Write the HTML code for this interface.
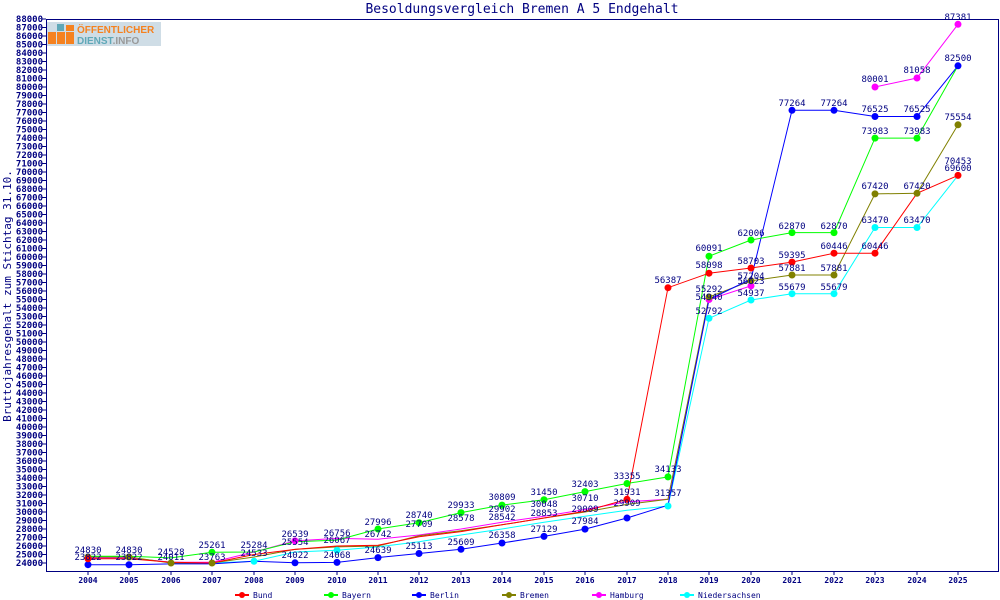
<!DOCTYPE html>
<html><head><meta charset="utf-8"><style>
body{margin:0;background:#fff}
svg{display:block;font-family:"DejaVu Sans Mono","Liberation Mono",monospace}
.yt{font-size:9px;font-weight:bold;fill:#000080;text-anchor:end}
.xt{font-size:8px;font-weight:bold;fill:#000080;text-anchor:middle}
.v{font-size:9px;fill:#000080;text-anchor:middle}
.lg{font-size:8px;fill:#000080}
</style></head><body>
<svg width="1000" height="600" viewBox="0 0 1000 600">
<text x="522" y="13" font-size="13" fill="#000080" text-anchor="middle">Besoldungsvergleich Bremen A 5 Endgehalt</text>
<text transform="translate(11,296) rotate(-90)" font-size="11" fill="#000080" text-anchor="middle">Bruttojahresgehalt zum Stichtag 31.10.</text>
<g>
<rect x="47" y="22" width="114" height="24" fill="#cfdde6"/>
<rect x="48" y="32" width="8" height="12" fill="#f58220"/><rect x="57" y="32" width="8" height="12" fill="#f58220"/><rect x="66" y="32" width="8" height="12" fill="#f58220"/><rect x="66" y="25" width="8" height="6" fill="#f58220"/><rect x="57" y="24" width="7" height="7" fill="#5fa8b8"/>
<text x="77" y="33" font-size="10" font-weight="bold" fill="#f58220" font-family="Liberation Sans,sans-serif">ÖFFENTLICHER</text>
<text x="77" y="44" font-size="10" font-weight="bold" fill="#5fa8b8" font-family="Liberation Sans,sans-serif">DIENST<tspan fill="#999">.INFO</tspan></text>
</g>
<rect x="46.5" y="19.5" width="952" height="552" fill="none" stroke="#000080"/>
<g stroke="#000080">
<path d="M42 563H46M42 554.5H46M42 546H46M42 537.5H46M42 529H46M42 520.5H46M42 512H46M42 503.5H46M42 495H46M42 486.5H46M42 478H46M42 469.5H46M42 461H46M42 452.5H46M42 444H46M42 435.5H46M42 427H46M42 418.5H46M42 410H46M42 401.5H46M42 393H46M42 384.5H46M42 376H46M42 367.5H46M42 359H46M42 350.5H46M42 342H46M42 333.5H46M42 325H46M42 316.5H46M42 308H46M42 299.5H46M42 291H46M42 282.5H46M42 274H46M42 265.5H46M42 257H46M42 248.5H46M42 240H46M42 231.5H46M42 223H46M42 214.5H46M42 206H46M42 197.5H46M42 189H46M42 180.5H46M42 172H46M42 163.5H46M42 155H46M42 146.5H46M42 138H46M42 129.5H46M42 121H46M42 112.5H46M42 104H46M42 95.5H46M42 87H46M42 78.5H46M42 70H46M42 61.5H46M42 53H46M42 44.5H46M42 36H46M42 27.5H46M42 19H46"/>
<path d="M88 571V575M129 571V575M171 571V575M212 571V575M254 571V575M295 571V575M337 571V575M378 571V575M419 571V575M461 571V575M502 571V575M544 571V575M585 571V575M627 571V575M668 571V575M709 571V575M751 571V575M792 571V575M834 571V575M875 571V575M917 571V575M958 571V575"/>
</g>
<g class="yt">
<text x="43" y="566">24000</text><text x="43" y="557.5">25000</text><text x="43" y="549">26000</text><text x="43" y="540.5">27000</text><text x="43" y="532">28000</text><text x="43" y="523.5">29000</text><text x="43" y="515">30000</text><text x="43" y="506.5">31000</text><text x="43" y="498">32000</text><text x="43" y="489.5">33000</text><text x="43" y="481">34000</text><text x="43" y="472.5">35000</text><text x="43" y="464">36000</text><text x="43" y="455.5">37000</text><text x="43" y="447">38000</text><text x="43" y="438.5">39000</text><text x="43" y="430">40000</text><text x="43" y="421.5">41000</text><text x="43" y="413">42000</text><text x="43" y="404.5">43000</text><text x="43" y="396">44000</text><text x="43" y="387.5">45000</text><text x="43" y="379">46000</text><text x="43" y="370.5">47000</text><text x="43" y="362">48000</text><text x="43" y="353.5">49000</text><text x="43" y="345">50000</text><text x="43" y="336.5">51000</text><text x="43" y="328">52000</text><text x="43" y="319.5">53000</text><text x="43" y="311">54000</text><text x="43" y="302.5">55000</text><text x="43" y="294">56000</text><text x="43" y="285.5">57000</text><text x="43" y="277">58000</text><text x="43" y="268.5">59000</text><text x="43" y="260">60000</text><text x="43" y="251.5">61000</text><text x="43" y="243">62000</text><text x="43" y="234.5">63000</text><text x="43" y="226">64000</text><text x="43" y="217.5">65000</text><text x="43" y="209">66000</text><text x="43" y="200.5">67000</text><text x="43" y="192">68000</text><text x="43" y="183.5">69000</text><text x="43" y="175">70000</text><text x="43" y="166.5">71000</text><text x="43" y="158">72000</text><text x="43" y="149.5">73000</text><text x="43" y="141">74000</text><text x="43" y="132.5">75000</text><text x="43" y="124">76000</text><text x="43" y="115.5">77000</text><text x="43" y="107">78000</text><text x="43" y="98.5">79000</text><text x="43" y="90">80000</text><text x="43" y="81.5">81000</text><text x="43" y="73">82000</text><text x="43" y="64.5">83000</text><text x="43" y="56">84000</text><text x="43" y="47.5">85000</text><text x="43" y="39">86000</text><text x="43" y="30.5">87000</text><text x="43" y="22">88000</text>
</g>
<g class="xt">
<text x="88" y="583">2004</text><text x="129" y="583">2005</text><text x="171" y="583">2006</text><text x="212" y="583">2007</text><text x="254" y="583">2008</text><text x="295" y="583">2009</text><text x="337" y="583">2010</text><text x="378" y="583">2011</text><text x="419" y="583">2012</text><text x="461" y="583">2013</text><text x="502" y="583">2014</text><text x="544" y="583">2015</text><text x="585" y="583">2016</text><text x="627" y="583">2017</text><text x="668" y="583">2018</text><text x="709" y="583">2019</text><text x="751" y="583">2020</text><text x="792" y="583">2021</text><text x="834" y="583">2022</text><text x="875" y="583">2023</text><text x="917" y="583">2024</text><text x="958" y="583">2025</text>
</g>
<g fill="none" stroke-width="1">
<polyline stroke="#00ffff" points="88,557.9 129,557.9 171,562.2 212,563 254,561.3 295,552 337,550.3 378,546.9 419,541.8 461,535 502,529 544,522.2 585,516.3 627,510.3 668,506 709,318.3 751,300 792,293.7 834,293.7 875,227.5 917,227.5 958,175.4"/>
<polyline stroke="#ff00ff" points="88,557.9 129,557.9 171,562.2 212,562.2 254,552 295,540.9 337,538.4 378,539.2 419,535 461,529 502,522.2 544,516.3 585,509.5 627,501.8 668,499.3 709,299.5 751,285.9"/>
<polyline stroke="#ff00ff" points="875,87 917,78 958,24.3"/>
<polyline stroke="#808000" points="88,557 129,557 171,563 212,563 254,557 295,549.4 337,546.9 378,546 419,535.8 461,530.7 502,524.8 544,518 585,512 627,504.4 668,499.3 709,297 751,280.8 792,275 834,275 875,193.9 917,193.3 958,124.8"/>
<polyline stroke="#0000ff" points="88,564.7 129,564.7 171,563.9 212,563.9 254,561.3 295,562.8 337,562.4 378,557.6 419,553.5 461,549.3 502,543 544,536.4 585,529.1 627,518 668,505.2 709,299.5 751,279.1 792,110.3 834,110.3 875,116.5 917,116.5 958,65.8"/>
<polyline stroke="#00ff00" points="88,556.2 129,556.2 171,557.9 212,552.3 254,552 295,541.8 337,540.1 378,529 419,522.7 461,512.6 502,505.1 544,499.7 585,491.6 627,483.5 668,476.9 709,256.2 751,240 792,232.6 834,232.6 875,138.1 917,138.1 958,65.8"/>
<polyline stroke="#ff0000" points="88,558.8 129,558.8 171,562.2 212,563 254,554.5 295,549.4 337,546 378,545.2 419,536.7 461,531.6 502,524.8 544,518 585,511.2 627,499.3 668,287.7 709,273.2 751,268 792,262.1 834,253.2 875,253.2 917,193.3 958,175.4"/>
</g>
<g>
<g fill="#00ffff"><circle cx="709" cy="318.3" r="3.5"/><circle cx="751" cy="300" r="3.5"/><circle cx="792" cy="293.7" r="3.5"/><circle cx="834" cy="293.7" r="3.5"/><circle cx="875" cy="227.5" r="3.5"/><circle cx="917" cy="227.5" r="3.5"/><circle cx="254" cy="561.3" r="3.5"/><circle cx="337" cy="550.3" r="3.5"/><circle cx="668" cy="506" r="3.5"/></g>
<g fill="#ff00ff"><circle cx="709" cy="299.5" r="3.5"/><circle cx="751" cy="285.9" r="3.5"/><circle cx="875" cy="87" r="3.5"/><circle cx="917" cy="78" r="3.5"/><circle cx="958" cy="24.3" r="3.5"/><circle cx="295" cy="540.9" r="3.5"/></g>
<g fill="#808000"><circle cx="88" cy="557" r="3.5"/><circle cx="129" cy="557" r="3.5"/><circle cx="171" cy="563" r="3.5"/><circle cx="212" cy="563" r="3.5"/><circle cx="751" cy="280.8" r="3.5"/><circle cx="792" cy="275" r="3.5"/><circle cx="834" cy="275" r="3.5"/><circle cx="875" cy="193.9" r="3.5"/><circle cx="917" cy="193.3" r="3.5"/><circle cx="958" cy="124.8" r="3.5"/><circle cx="709" cy="297" r="3.5"/></g>
<g fill="#0000ff"><circle cx="88" cy="564.7" r="3.5"/><circle cx="129" cy="564.7" r="3.5"/><circle cx="295" cy="562.8" r="3.5"/><circle cx="337" cy="562.4" r="3.5"/><circle cx="378" cy="557.6" r="3.5"/><circle cx="419" cy="553.5" r="3.5"/><circle cx="461" cy="549.3" r="3.5"/><circle cx="502" cy="543" r="3.5"/><circle cx="544" cy="536.4" r="3.5"/><circle cx="585" cy="529.1" r="3.5"/><circle cx="627" cy="518" r="3.5"/><circle cx="792" cy="110.3" r="3.5"/><circle cx="834" cy="110.3" r="3.5"/><circle cx="875" cy="116.5" r="3.5"/><circle cx="917" cy="116.5" r="3.5"/><circle cx="958" cy="65.8" r="3.5"/></g>
<g fill="#00ff00"><circle cx="212" cy="552.3" r="3.5"/><circle cx="378" cy="529" r="3.5"/><circle cx="419" cy="522.7" r="3.5"/><circle cx="461" cy="512.6" r="3.5"/><circle cx="502" cy="505.1" r="3.5"/><circle cx="544" cy="499.7" r="3.5"/><circle cx="585" cy="491.6" r="3.5"/><circle cx="627" cy="483.5" r="3.5"/><circle cx="668" cy="476.9" r="3.5"/><circle cx="709" cy="256.2" r="3.5"/><circle cx="751" cy="240" r="3.5"/><circle cx="792" cy="232.6" r="3.5"/><circle cx="834" cy="232.6" r="3.5"/><circle cx="875" cy="138.1" r="3.5"/><circle cx="917" cy="138.1" r="3.5"/></g>
<g fill="#ff0000"><circle cx="668" cy="287.7" r="3.5"/><circle cx="709" cy="273.2" r="3.5"/><circle cx="751" cy="268" r="3.5"/><circle cx="792" cy="262.1" r="3.5"/><circle cx="834" cy="253.2" r="3.5"/><circle cx="875" cy="253.2" r="3.5"/><circle cx="958" cy="175.4" r="3.5"/><circle cx="627" cy="499.3" r="3.5"/><circle cx="88" cy="558.8" r="3.5"/></g>
</g>
<g class="v">
<text x="88" y="553">24830</text><text x="88" y="560">23822</text><text x="129" y="553">24830</text><text x="129" y="560">23822</text>
<text x="171" y="555">24528</text><text x="171" y="560">24011</text><text x="212" y="548">25261</text><text x="212" y="560">23763</text>
<text x="254" y="548">25284</text><text x="254" y="556">24533</text><text x="295" y="537">26539</text><text x="295" y="545">25554</text><text x="295" y="558">24022</text>
<text x="337" y="536">26756</text><text x="337" y="543">26067</text><text x="337" y="558">24068</text>
<text x="378" y="525">27996</text><text x="378" y="537">26742</text><text x="378" y="553">24639</text>
<text x="419" y="518">28740</text><text x="419" y="527">27709</text><text x="419" y="549">25113</text>
<text x="461" y="508">29933</text><text x="461" y="521">28578</text><text x="461" y="545">25609</text>
<text x="502" y="500">30809</text><text x="502" y="512">29902</text><text x="502" y="520">28542</text><text x="502" y="538">26358</text>
<text x="544" y="495">31450</text><text x="544" y="507">30048</text><text x="544" y="516">28853</text><text x="544" y="532">27129</text>
<text x="585" y="487">32403</text><text x="585" y="501">30710</text><text x="585" y="512">29009</text><text x="585" y="524">27984</text>
<text x="627" y="479">33355</text><text x="627" y="495">31931</text><text x="627" y="506">29909</text>
<text x="668" y="472">34133</text><text x="668" y="496">31357</text><text x="668" y="283">56387</text>
<text x="709" y="251">60091</text><text x="709" y="268">58098</text><text x="709" y="292">55292</text><text x="709" y="300">54940</text><text x="709" y="314">52792</text>
<text x="751" y="236">62006</text><text x="751" y="264">58703</text><text x="751" y="279">57204</text><text x="751" y="284">56623</text><text x="751" y="296">54937</text>
<text x="792" y="106">77264</text><text x="792" y="229">62870</text><text x="792" y="258">59395</text><text x="792" y="271">57881</text><text x="792" y="290">55679</text>
<text x="834" y="106">77264</text><text x="834" y="229">62870</text><text x="834" y="249">60446</text><text x="834" y="271">57881</text><text x="834" y="290">55679</text>
<text x="875" y="82">80001</text><text x="875" y="112">76525</text><text x="875" y="134">73983</text><text x="875" y="189">67420</text><text x="875" y="223">63470</text><text x="875" y="249">60446</text>
<text x="917" y="73">81058</text><text x="917" y="112">76525</text><text x="917" y="134">73983</text><text x="917" y="189">67420</text><text x="917" y="223">63470</text>
<text x="958" y="20">87381</text><text x="958" y="61">82500</text><text x="958" y="120">75554</text><text x="958" y="164">70453</text><text x="958" y="171">69600</text>
</g>
<g class="lg">
<line x1="235" y1="595" x2="249" y2="595" stroke="#ff0000" stroke-width="2"/><circle cx="242" cy="595" r="3" fill="#ff0000"/><text x="253" y="598">Bund</text>
<line x1="324" y1="595" x2="338" y2="595" stroke="#00ff00" stroke-width="2"/><circle cx="331" cy="595" r="3" fill="#00ff00"/><text x="342" y="598">Bayern</text>
<line x1="412" y1="595" x2="426" y2="595" stroke="#0000ff" stroke-width="2"/><circle cx="419" cy="595" r="3" fill="#0000ff"/><text x="430" y="598">Berlin</text>
<line x1="502" y1="595" x2="516" y2="595" stroke="#808000" stroke-width="2"/><circle cx="509" cy="595" r="3" fill="#808000"/><text x="520" y="598">Bremen</text>
<line x1="592" y1="595" x2="606" y2="595" stroke="#ff00ff" stroke-width="2"/><circle cx="599" cy="595" r="3" fill="#ff00ff"/><text x="610" y="598">Hamburg</text>
<line x1="680" y1="595" x2="694" y2="595" stroke="#00ffff" stroke-width="2"/><circle cx="687" cy="595" r="3" fill="#00ffff"/><text x="698" y="598">Niedersachsen</text>
</g>
</svg>
</body></html>
